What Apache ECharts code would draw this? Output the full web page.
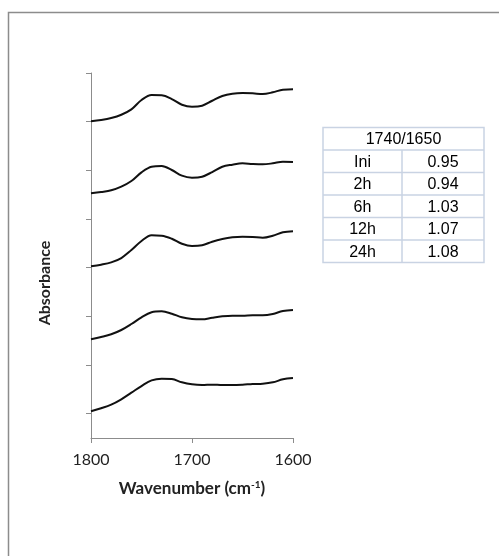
<!DOCTYPE html>
<html>
<head>
<meta charset="utf-8">
<script src="https://cdn.jsdelivr.net/npm/echarts@6/dist/echarts.min.js"></script>
<style>html,body{margin:0;padding:0;background:#fff}#c{width:499px;height:556px}</style>
</head>
<body>
<div id="c"></div>
<script>
// Wavenumber grid (cm-1)
var wavenumbers = [1800,1790,1780,1770,1760,1750,1740,1730,1720,1710,1700,1690,1680,1670,1660,1650,1640,1630,1620,1610,1600];
// Offset (stacked) absorbance spectra, top to bottom
var specIni = [6.507,6.534,6.575,6.643,6.753,6.945,7.047,7.041,6.965,6.848,6.807,6.828,6.930,7.027,7.074,7.088,7.082,7.068,7.103,7.156,7.164];
var spec2h  = [5.028,5.054,5.089,5.164,5.280,5.459,5.574,5.589,5.507,5.390,5.349,5.369,5.465,5.574,5.616,5.644,5.630,5.623,5.644,5.677,5.671];
var spec6h  = [3.527,3.561,3.609,3.698,3.863,4.048,4.165,4.157,4.095,3.992,3.945,3.959,4.034,4.089,4.124,4.136,4.130,4.116,4.157,4.226,4.247];
var spec12h = [2.028,2.075,2.131,2.219,2.342,2.480,2.583,2.603,2.554,2.480,2.445,2.439,2.472,2.500,2.513,2.513,2.521,2.521,2.548,2.609,2.630];
var spec24h = [0.548,0.610,0.685,0.795,0.931,1.068,1.185,1.219,1.212,1.144,1.103,1.089,1.096,1.089,1.089,1.096,1.110,1.116,1.144,1.206,1.233];
var xTicks = [1800,1700,1600];
var yTickValues = [0.5,1.5,2.5,3.5,4.5,5.5,6.5,7.5];
// Inset table
var tableHeader = '1740/1650';
var tableLabels = ['Ini','2h','6h','12h','24h'];
var tableValues = ['0.95','0.94','1.03','1.07','1.08'];

var seriesList = [specIni, spec2h, spec6h, spec12h, spec24h];
function pairs(arr){ return wavenumbers.map(function(w,i){ return [w, arr[i]]; }); }

var chart = echarts.init(document.getElementById('c'), null, {renderer:'canvas'});

var titleFont = 'Lato, "Open Sans", sans-serif';
var tableFont = '16px "Liberation Sans", Arial, sans-serif';

// table graphics
var tx0 = 323, tx1 = 402, tx2 = 484, ty0 = 127.5, rowH = 22.5;
var gEls = [];
gEls.push({type:'rect', shape:{x:8.5,y:12.5,width:520,height:580}, style:{fill:null, stroke:'#8c8c8c', lineWidth:1.5}, silent:true});
var nRows = tableLabels.length + 1;
var tableBottom = ty0 + rowH*nRows;
var bColor = '#c9d3e3';
gEls.push({type:'rect', shape:{x:tx0,y:ty0,width:tx2-tx0,height:tableBottom-ty0}, style:{fill:null, stroke:bColor, lineWidth:1.5}, silent:true});
for (var r=1; r<nRows; r++) {
  gEls.push({type:'line', shape:{x1:tx0,y1:ty0+rowH*r,x2:tx2,y2:ty0+rowH*r}, style:{stroke:bColor, lineWidth:1.5}, silent:true});
}
gEls.push({type:'line', shape:{x1:tx1,y1:ty0+rowH,x2:tx1,y2:tableBottom}, style:{stroke:bColor, lineWidth:1.5}, silent:true});
gEls.push({type:'text', x:(tx0+tx2)/2, y:ty0+rowH/2+1, style:{text:tableHeader, font:tableFont, fill:'#000', align:'center', verticalAlign:'middle'}, silent:true});
tableLabels.forEach(function(l,i){
  var cy = ty0 + rowH*(i+1) + rowH/2 + 1;
  gEls.push({type:'text', x:(tx0+tx1)/2, y:cy, style:{text:l, font:tableFont, fill:'#000', align:'center', verticalAlign:'middle'}, silent:true});
  gEls.push({type:'text', x:(tx1+tx2)/2, y:cy, style:{text:tableValues[i], font:tableFont, fill:'#000', align:'center', verticalAlign:'middle'}, silent:true});
});
// y axis title (placed like the original, below the plot centre)
gEls.push({type:'text', x:45, y:283, rotation:Math.PI/2,
  style:{text:'Absorbance', font:'bold 16px ' + titleFont, fill:'#222', align:'center', verticalAlign:'middle'}, silent:true});

var option = {
  animation:false,
  backgroundColor:'#fff',
  grid:{left:91, top:73, right:206, bottom:118, containLabel:false},
  xAxis:{
    type:'value', inverse:true, min:1600, max:1800, interval:100,
    axisLine:{show:true, lineStyle:{color:'#8c8c8c', width:1}},
    axisTick:{show:true, length:5, inside:false, lineStyle:{color:'#8c8c8c'}},
    axisLabel:{show:true, margin:14, color:'#222', fontSize:16, fontFamily:titleFont,
      customValues: xTicks, formatter:function(v){ return String(v); }},
    splitLine:{show:false},
    name:'{b|Wavenumber (cm}{s|-1}{b|)}', nameLocation:'middle', nameGap:42,
    nameTextStyle:{rich:{
      b:{fontSize:17, fontWeight:'bold', fontFamily:titleFont, color:'#222'},
      s:{fontSize:10, fontWeight:'bold', fontFamily:titleFont, color:'#222', verticalAlign:'top', padding:[0,0,8,0]}
    }}
  },
  yAxis:{
    type:'value', min:0, max:7.5,
    axisLine:{show:true, lineStyle:{color:'#8c8c8c', width:1}},
    axisTick:{show:true, length:5, lineStyle:{color:'#8c8c8c'}, customValues: yTickValues},
    axisLabel:{show:false},
    splitLine:{show:false}
  },
  series: seriesList.map(function(s){
    return {type:'line', data:pairs(s), smooth:0.35, showSymbol:false, symbol:'none',
      lineStyle:{color:'#111', width:2}, silent:true};
  }),
  graphic: gEls
};
chart.setOption(option);
</script>
</body>
</html>
